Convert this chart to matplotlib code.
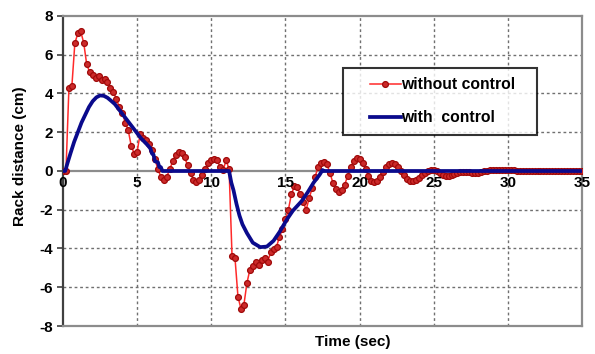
import numpy as np
import matplotlib
matplotlib.use("Agg")
import matplotlib.pyplot as plt
from matplotlib.lines import Line2D
from matplotlib.legend_handler import HandlerLine2D

plt.rcParams['font.family'] = ['Liberation Sans', 'DejaVu Sans']
plt.rcParams['font.weight'] = 'bold'

# ---- data ----
red_time = np.round(np.arange(0, 35.01, 0.2), 1)
red_values = [
    0, 0, 4.3, 4.4, 6.6, 7.1, 7.2, 6.6, 5.5, 5.1,
    4.95, 4.8, 4.9, 4.7, 4.75, 4.6, 4.3, 4.1, 3.7, 3.3,
    3.0, 2.5, 2.1, 1.3, 0.9, 1.0, 1.9, 1.7, 1.6, 1.4,
    1.1, 0.6, 0.1, -0.3, -0.45, -0.3, 0.1, 0.5, 0.85, 1.0,
    0.95, 0.7, 0.3, -0.1, -0.45, -0.55, -0.45, -0.2, 0.1, 0.4,
    0.55, 0.6, 0.55, 0.2, 0.05, 0.55, 0.1, -4.4, -4.5, -6.5,
    -7.1, -6.9, -5.8, -5.1, -4.9, -4.7, -4.85, -4.6, -4.5, -4.7,
    -4.2, -4.05, -3.9, -3.4, -3.0, -2.5, -2.0, -1.2, -0.8, -0.85,
    -1.2, -1.6, -2.0, -1.4, -0.9, -0.3, 0.2, 0.4, 0.45, 0.35,
    -0.1, -0.6, -0.95, -1.08, -1.0, -0.7, -0.25, 0.2, 0.5, 0.65,
    0.6, 0.4, 0.1, -0.25, -0.5, -0.55, -0.5, -0.3, -0.05, 0.2,
    0.35, 0.4, 0.35, 0.2, 0.0, -0.2, -0.4, -0.5, -0.5, -0.45,
    -0.35, -0.2, -0.1, 0.0, 0.05, 0.05, 0.0, -0.1, -0.2, -0.25,
    -0.25, -0.2, -0.15, -0.1, -0.05, -0.05, -0.05, -0.05, -0.1, -0.1,
    -0.1, -0.05, 0.0, 0.0, 0.05, 0.05, 0.05, 0.05, 0.05, 0.05,
    0.05, 0.05, 0.05, 0.0, 0.0, 0.0, 0.02, 0.02, 0.02, 0.02,
    0.02, 0.02, 0.02, 0.02, 0.02, 0.02, 0.02, 0.02, 0.02, 0.02,
    0.02, 0.02, 0.02, 0.02, 0.02, 0.02,
]

blue_time = [0, 0.15, 0.3, 0.5, 0.75, 1.0, 1.25, 1.5, 1.75, 2.0,
             2.25, 2.5, 2.75, 3.0, 3.25, 3.5, 3.75, 4.0, 4.25, 4.5,
             4.75, 5.0, 5.25, 5.5, 5.75, 5.9, 6.0, 6.1, 6.2, 6.4,
             6.5, 6.6, 6.7, 11.2, 11.35, 11.5, 11.7, 11.9, 12.1, 12.4,
             12.8, 13.3, 13.75, 14.2, 14.6, 15.1, 15.5, 16.1, 16.5, 16.9,
             17.1, 17.3, 17.5, 17.6, 35]
blue_values = [0, 0, 0.4, 0.9, 1.5, 2.0, 2.5, 2.9, 3.3, 3.6,
               3.8, 3.9, 3.88, 3.78, 3.62, 3.45, 3.2, 2.95, 2.7, 2.45,
               2.2, 1.95, 1.7, 1.5, 1.3, 1.15, 0.9, 0.85, 0.5, 0.45,
               0.2, 0.2, 0.0, 0.0, -0.6, -1.0, -1.7, -2.3, -2.75, -3.2,
               -3.7, -3.93, -3.9, -3.6, -3.15, -2.5, -2.05, -1.55, -1.1, -0.6,
               -0.4, -0.2, 0.05, 0.0, 0.0]

x_ticks = [0, 5, 10, 15, 20, 25, 30, 35]
y_ticks = [-8, -6, -4, -2, 0, 2, 4, 6, 8]
label_red = "without control"
label_blue = "with  control"
xlabel = "Time (sec)"
ylabel = "Rack distance (cm)"

RED_LINE = '#ff2a2a'
RED_MFC = '#cc2a2a'
RED_MEC = '#a00a0a'
BLUE = '#0a0a8c'

# ---- figure ----
fig = plt.figure(figsize=(5.95, 3.54), dpi=100)
ax = fig.add_axes([63/595, 1-326/354, (582-63)/595, (326-16)/354])

ax.set_xlim(0, 35)
ax.set_ylim(-8, 8)

grid_kw = dict(color='#707070', lw=1.0, ls=(0, (2, 2)), zorder=1)
for xv in x_ticks[1:-1]:
    ax.axvline(xv, **grid_kw)
for yv in y_ticks[1:-1]:
    if yv != 0:
        ax.axhline(yv, **grid_kw)

ax.axhline(0, color='#8c8c8c', lw=1.6, zorder=2)

ax.plot(red_time, red_values, color=RED_LINE, lw=1.1, marker='o', ms=4.2,
        mfc=RED_MFC, mec=RED_MEC, mew=0.9, zorder=3)
ax.plot(blue_time, blue_values, color=BLUE, lw=2.7, zorder=4,
        solid_joinstyle='round')

# spines
for s in ['top', 'right', 'bottom']:
    ax.spines[s].set_color('#8c8c8c')
    ax.spines[s].set_linewidth(1.6)
ax.spines['left'].set_color('#404040')
ax.spines['left'].set_linewidth(1.6)

ax.set_yticks(y_ticks)
ax.set_yticklabels([str(v) for v in y_ticks], fontsize=11, fontweight='bold')
ax.tick_params(axis='y', length=4, width=1.2, color='#404040', pad=3)

ax.set_xticks([])
for xv in x_ticks:
    ax.text(xv, -0.25, str(xv), ha='center', va='top', fontsize=11,
            fontweight='bold', zorder=5)

fig.text(353/595, 1-342/354, xlabel, ha='center', va='center', fontsize=11,
         fontweight='bold')
fig.text(20/595, 1-156/354, ylabel, ha='center', va='center', rotation=90,
         fontsize=11, fontweight='bold')

fs = 11.3
handles = [Line2D([], [], color=RED_LINE, lw=1.1, marker='o', ms=4.2,
                  mfc=RED_MFC, mec=RED_MEC, mew=0.9, markevery=[1]),
           Line2D([], [], color=BLUE, lw=2.7)]
hmap = {h: HandlerLine2D(xpad=1.1) for h in handles}
leg = ax.legend(handles, [label_red, label_blue], loc='upper left',
                bbox_to_anchor=(280/519, 0.3, 194/519, (326-68)/310 - 0.3),
                mode='expand', handler_map=hmap,
                prop=dict(size=fs, weight='bold'),
                frameon=True, fancybox=False, handlelength=3.1, handletextpad=0.0,
                labelspacing=1.15, borderpad=0.6, borderaxespad=0)
leg.get_frame().set_edgecolor('black')
leg.get_frame().set_linewidth(1.5)

fig.savefig('out.png', dpi=100)
